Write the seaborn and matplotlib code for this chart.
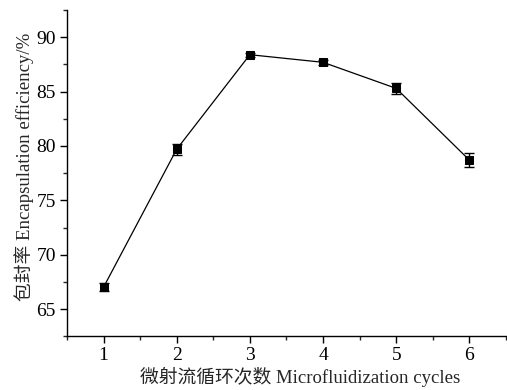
import matplotlib
matplotlib.use("Agg")
import matplotlib.pyplot as plt
from matplotlib.ticker import MultipleLocator
import seaborn as sns
import pandas as pd

cycles = [1, 2, 3, 4, 5, 6]
efficiency = [67.0, 79.7, 88.4, 87.7, 85.3, 78.7]
error = [0.35, 0.5, 0.2, 0.25, 0.5, 0.65]

sns.set_style("ticks")
plt.rcParams["font.family"] = ["Liberation Serif", "Noto Sans CJK SC"]

df = pd.DataFrame({"cycles": cycles, "efficiency": efficiency, "err": error})

fig = plt.figure(figsize=(5.07, 3.90), dpi=100)
ax = fig.add_axes([0.132, 0.138, 0.866, 0.836])

ax.errorbar(df["cycles"], df["efficiency"], yerr=df["err"], fmt="none",
            ecolor="black", elinewidth=1.0, capsize=3.5, capthick=1.0, zorder=2)
sns.lineplot(data=df, x="cycles", y="efficiency", ax=ax, color="black",
             linewidth=0.9, marker="s", markersize=5.5, markeredgecolor="black",
             markerfacecolor="black", zorder=3)

ax.set_xlim(0.5, 6.5)
ax.set_ylim(62.5, 92.5)
ax.xaxis.set_major_locator(MultipleLocator(1))
ax.xaxis.set_minor_locator(MultipleLocator(0.5))
ax.yaxis.set_major_locator(MultipleLocator(5))
ax.yaxis.set_minor_locator(MultipleLocator(2.5))
ax.tick_params(which="major", direction="out", length=5, width=1.0,
               labelsize=14, colors="black", pad=3)
ax.tick_params(which="minor", direction="out", length=3, width=1.0)

for side in ("top", "right"):
    ax.spines[side].set_visible(False)
for side in ("left", "bottom"):
    ax.spines[side].set_linewidth(1.0)
    ax.spines[side].set_color("black")

ax.set_xlabel("微射流循环次数 Microfluidization cycles", fontsize=13.5,
              labelpad=2, x=0.53)
ax.set_ylabel("包封率 Encapsulation efficiency/%", fontsize=13.5,
              labelpad=2, y=0.52)

fig.savefig("out.png", dpi=100, facecolor="white")
